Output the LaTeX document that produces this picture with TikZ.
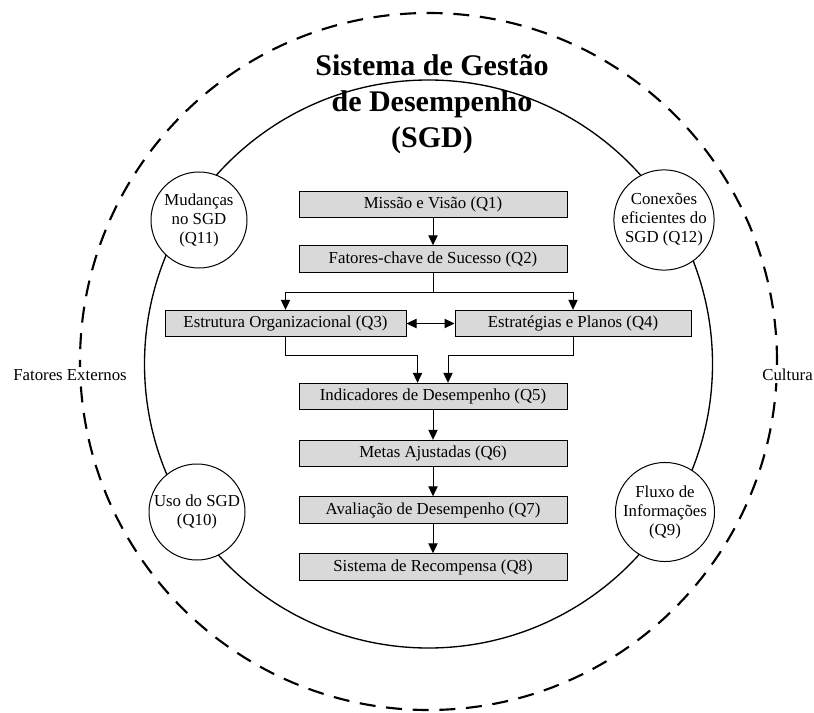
\documentclass[tikz,border=0pt]{standalone}
\usepackage{fontspec}
\setmainfont{Liberation Serif}
\usetikzlibrary{arrows.meta}
\definecolor{boxgray}{RGB}{217,217,217}
\begin{document}
\begin{tikzpicture}[x=0.75pt,y=-0.75pt,
  txt/.style={font=\fontsize{12.6}{14.25}\selectfont},
  stage/.style={txt, draw=black, line width=0.75pt, fill=boxgray, inner sep=0pt,
    minimum width=201pt, minimum height=19.8pt},
  aspect/.style={txt, circle, draw=black, line width=0.75pt, fill=white, inner sep=0pt,
    minimum size=72pt, align=center},
  side/.style={txt, fill=white, inner sep=1.5pt},
  arr/.style={line width=0.75pt, -{Triangle[length=7.5pt,width=7pt]}},
  dblarr/.style={line width=0.75pt, {Triangle[length=7.5pt,width=7pt]}-{Triangle[length=7.5pt,width=7pt]}}
]
\useasboundingbox (0,0) rectangle (814,713);

% outer environment and the system boundary
\node[circle, draw=black, line width=1.6pt, dash pattern=on 12pt off 8pt,
  minimum size=522.75pt, inner sep=0pt] (env) at (428.5,361.5) {};
\node[side] (ext) at (70,375) {Fatores Externos};
\node[side] (cult) at (787.5,375) {Cultura};
\node[circle, draw=black, line width=1pt, minimum size=426pt, inner sep=0pt] (sgd) at (428.5,364) {};

% title
\node[font=\bfseries\fontsize{22.5}{27}\selectfont, align=center] (title) at (432,104)
  {Sistema de Gestão\\de Desempenho\\(SGD)};

% aspects around the system
\node[aspect] (q11) at (199,220) {Mudanças\\no SGD\\(Q11)};
\node[aspect] (q12) at (664,220) {Conexões\\eficientes do\\SGD (Q12)};
\node[aspect] (q10) at (197,512) {Uso do SGD\\(Q10)};
\node[aspect] (q9)  at (665,512) {Fluxo de\\Informações\\(Q9)};

% stages of the system
\node[stage] (q1) at (433,204.5) {Missão e Visão (Q1)};
\node[stage] (q2) at (433,259) {Fatores-chave de Sucesso (Q2)};
\node[stage, minimum width=180.75pt] (q3) at (285.5,323.5) {Estrutura Organizacional (Q3)};
\node[stage, minimum width=177pt] (q4) at (573,323.5) {Estratégias e Planos (Q4)};
\node[stage] (q5) at (433,396.5) {Indicadores de Desempenho (Q5)};
\node[stage] (q6) at (433,453.5) {Metas Ajustadas (Q6)};
\node[stage] (q7) at (433,510) {Avaliação de Desempenho (Q7)};
\node[stage] (q8) at (433,567) {Sistema de Recompensa (Q8)};

% connectors
\draw[arr] (q1) -- (q2);
\draw[arr] (q2.south) -- ++(0,20) -| (q3.north);
\draw[arr] (q2.south) -- ++(0,20) -| (q4.north);
\draw[dblarr] (q3.east) -- (q4.west);
\draw[arr] (q3.south) -- ++(0,18) -| ([xshift=-11.6pt]q5.north);
\draw[arr] (q4.south) -- ++(0,18) -| ([xshift=11.25pt]q5.north);
\draw[arr] (q5) -- (q6);
\draw[arr] (q6) -- (q7);
\draw[arr] (q7) -- (q8);
\end{tikzpicture}
\end{document}
